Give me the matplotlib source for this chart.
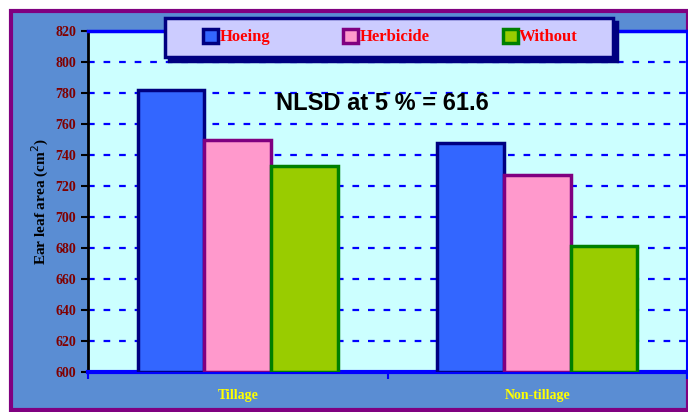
import matplotlib
matplotlib.use("Agg")
import matplotlib.pyplot as plt
from matplotlib.patches import Rectangle
import numpy as np

# data
categories = ["Tillage", "Non-tillage"]
series = ["Hoeing", "Herbicide", "Without"]
hoeing = [782, 748]
herbicide = [750, 727]
without = [733, 681]
values = [hoeing, herbicide, without]
fills = ["#3366FF", "#FF99CC", "#99CC00"]
edges = ["#000080", "#800080", "#008000"]
yticks = list(range(600, 821, 20))

serif = ["Liberation Serif", "DejaVu Serif"]
W, H = 688, 412

fig = plt.figure(figsize=(6.88, 4.12), dpi=100, facecolor="white")
# outer chart area with purple border
fig.patches.append(Rectangle((11 / W, 2 / H), 677 / W, 399 / H,
                             transform=fig.transFigure, facecolor="#5A8DD3",
                             edgecolor="#800080", linewidth=3, zorder=-10))

ax = fig.add_axes([88 / W, 40 / H, 599 / W, 341 / H])
ax.set_facecolor("#CCFFFF")

x = np.arange(len(categories))
w = 0.223
bars = []
for i, (name, vals) in enumerate(zip(series, values)):
    b = ax.bar(x + (i - 1) * w, [v - 600 for v in vals], w, bottom=600,
               color=fills[i], edgecolor=edges[i], linewidth=2.5, label=name,
               zorder=3)
    bars.append(b)

ax.set_xlim(-0.5, 1.5)
ax.set_ylim(600, 820)
ax.set_yticks(yticks)
ax.set_yticklabels([str(t) for t in yticks], color="#800000", fontweight="bold",
                   family=serif, fontsize=10)
ax.tick_params(axis="y", direction="out", length=5, width=1.5, color="black")

ax.set_xticks(x)
ax.set_xticklabels(categories, color="#FFFF00", fontweight="bold", family=serif,
                   fontsize=10)
ax.tick_params(axis="x", which="major", length=0, pad=12)
ax.set_xticks([-0.5, 0.5, 1.5], minor=True)
ax.tick_params(axis="x", which="minor", direction="out", length=5, width=1.5,
               color="#0000FF")

ax.yaxis.grid(True, color="#0000FF", linestyle=(0, (3, 4)), linewidth=1.6)
ax.set_axisbelow(True)

ax.spines["left"].set_color("black")
ax.spines["left"].set_linewidth(2)
ax.spines["bottom"].set_color("#0000FF")
ax.spines["bottom"].set_linewidth(3)
ax.spines["top"].set_color("#0000FF")
ax.spines["top"].set_linewidth(2.5)
ax.spines["right"].set_color("#0000FF")
ax.spines["right"].set_linewidth(1.5)

ax.set_ylabel("Ear leaf area (cm$^2$)", fontweight="bold", family=serif,
              fontsize=11, labelpad=3)

ax.text(0.483, 773, "NLSD at 5 % = 61.6", ha="center", va="center",
        fontsize=17, fontweight="bold", family="Liberation Sans", color="black",
        zorder=5)

# legend box with navy shadow
lx0, lx1, ly0, ly1 = 165, 613, 18, 57
fig.patches.append(Rectangle(((lx0 + 4) / W, (H - ly1 - 4) / H),
                             (lx1 - lx0) / W, (ly1 - ly0) / H,
                             transform=fig.transFigure, facecolor="#000080",
                             edgecolor="#000080", linewidth=2.5, zorder=4))
fig.patches.append(Rectangle((lx0 / W, (H - ly1) / H),
                             (lx1 - lx0) / W, (ly1 - ly0) / H,
                             transform=fig.transFigure, facecolor="#CCCCFF",
                             edgecolor="#000080", linewidth=2.5, zorder=4.5))

leg = fig.legend(handles=bars, labels=series, ncol=3, mode="expand",
                 loc="center left",
                 bbox_to_anchor=(203 / W, (H - 37) / H, 375 / W, 0),
                 frameon=False, handlelength=0.9, handleheight=0.9,
                 handletextpad=0.1, borderaxespad=0, borderpad=0,
                 prop={"family": serif, "weight": "bold", "size": 12})
leg.set_zorder(6)
for t in leg.get_texts():
    t.set_color("#FF0000")

fig.savefig("out.png", dpi=100, facecolor=fig.get_facecolor())
